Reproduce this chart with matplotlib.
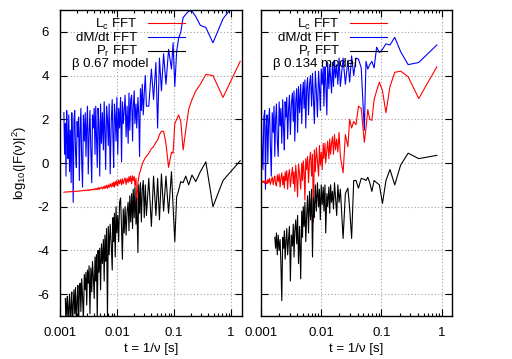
import numpy as np
import matplotlib
matplotlib.use("Agg")
import matplotlib.pyplot as plt
from matplotlib.lines import Line2D
from matplotlib.ticker import LogLocator, NullFormatter

plt.rcParams['font.family'] = ['Liberation Sans', 'DejaVu Sans']
plt.rcParams['mathtext.fontset'] = 'custom'
plt.rcParams['mathtext.rm'] = 'Liberation Sans'
plt.rcParams['mathtext.it'] = 'Liberation Sans:italic'

nan = np.nan

# ---- left panel (beta 0.67 model): period t [s] and log10 |F|^2 ----
t_left = [0.00117, 0.001205, 0.00124, 0.001274, 0.00131, 0.001346, 0.00138, 0.001426, 0.00147, 0.001516,
          0.00157, 0.001609, 0.00166, 0.001704, 0.00176, 0.001811, 0.00187, 0.001933, 0.00200, 0.002057,
          0.00212, 0.002182, 0.00225, 0.002323, 0.00240, 0.002483, 0.00257, 0.002667, 0.00277, 0.002851,
          0.00294, 0.003032, 0.00313, 0.003236, 0.00335, 0.00347, 0.00360, 0.003711, 0.00384, 0.003978,
          0.00411, 0.004235, 0.00436, 0.0045, 0.00465, 0.0048, 0.00497, 0.005143, 0.00533, 0.005538,
          0.00576, 0.00595, 0.00613, 0.006316, 0.00655, 0.006792, 0.00702, 0.007273, 0.00758, 0.007912,
          0.00823, 0.008471, 0.00873, 0.009, 0.00929, 0.0096, 0.00993, 0.010286, 0.01067, 0.011077,
          0.01152, 0.012, 0.01241, 0.012857, 0.01333, 0.013846, 0.0144, 0.015, 0.01565, 0.01618,
          0.01674, 0.01735, 0.0180, 0.0187, 0.0192, 0.0200, 0.02057, 0.02149, 0.02215, 0.02323,
          0.0240, 0.02483, 0.02571, 0.02667, 0.02769, 0.0288, 0.0300, 0.0313, 0.03273,
          0.0360, 0.0400, 0.04364, 0.0480, 0.05143, 0.05538, 0.0600, 0.06545, 0.0720, 0.0800,
          0.0900, 0.0960, 0.1029, 0.1108, 0.1200, 0.1309, 0.1440, 0.1600, 0.1800, 0.2057,
          0.240, 0.288, 0.360, 0.480, 0.720, 1.440]
dmdt_left = [2.3, 0.4, 1.8, -0.6, 2.4, 1.1, 0.2, 2.2, -0.4, 1.5,
             -0.9, 2.3, 0.8, -1.8, 2.0, 2.4, 0.5, -0.2, 1.9, 1.2,
             2.1, -0.8, 1.4, 2.5, 0.1, -1.1, 2.2, 1.0, 2.3, 0.3,
             1.7, 2.6, -0.5, 1.3, 2.4, 0.6, -0.9, 2.2, 1.6, 2.5,
             0.4, 2.6, 1.2, -0.2, 2.5, 1.8, -0.6, 2.7, 0.9, 2.3,
             0.6, 2.8, 1.5, -0.3, 2.6, 2.0, 0.8, 2.7, -0.5, 1.9,
             2.9, 1.2, -0.2, 2.7, 2.2, 1.0, 3.0, 0.4, 2.5, 1.6,
             3.0, 0.05, 2.8, 1.8, 2.4, 3.1, 1.2, 2.6, 0.9, 3.2,
             1.5, 2.9, 3.1, 1.0, 2.5, 3.3, 1.8, 2.7, 1.6, 3.0,
             2.2, 0.3, 3.4, 2.4, 3.6, 2.2, 3.2, 4.0, 2.6,
             2.6, 4.3, 2.9, 4.6, 1.6, 4.8, 3.3, 5.0, 3.6, 5.2,
             4.3, 5.5, 3.5, 5.1, 5.7, 6.0, 6.65, 6.8, 6.95, 6.95,
             6.7, 6.3, 6.2, 5.5, 6.6, 7.6]
lc_left = [-1.34, -1.33, -1.33, -1.33, -1.32, -1.32, -1.33, -1.32, -1.31, -1.32,
           -1.31, -1.31, -1.30, -1.31, -1.30, -1.30, -1.29, -1.30, -1.29, -1.28,
           -1.28, -1.29, -1.27, -1.28, -1.26, -1.27, -1.25, -1.27, -1.24, -1.26,
           -1.25, -1.23, -1.26, -1.22, -1.25, -1.21, -1.24, -1.20, -1.23, -1.18,
           -1.22, -1.17, -1.21, -1.15, -1.22, -1.12, -1.20, -1.14, -1.10, -1.19,
           -1.08, -1.17, -1.05, -1.15, -1.02, -1.16, -1.00, -1.12, -0.95, -1.10,
           -0.92, -1.08, -0.88, -1.10, -0.85, -1.02, -0.80, -1.05, -0.78, -0.95,
           -0.75, -1.00, -0.72, -0.95, -0.80, -0.68, -0.98, -0.70, -0.90, -0.62,
           -0.85, -0.60, -0.95, -0.58, -0.80, -0.62, -1.05, -0.70, -1.95, -0.90,
           -0.65, -0.45, -0.35, -0.20, -0.05, 0.05, 0.15, 0.25, 0.30,
           0.45, 0.65, 0.75, 0.95, 1.05, 1.30, 1.45, 1.45, 0.9, -0.2,
           0.5, 0.45, 1.8, 2.0, 2.2, 1.9, 0.6, 1.5, 2.45, 2.9,
           3.3, 3.6, 4.05, 4.0, 3.0, 4.65]
pr_left = [nan, nan, -6.2, -7.5, -6.4, -6.1, -7.3, -6.6, -6.0, -7.6,
           -6.3, -5.9, -7.8, -6.5, -5.8, -6.9, -5.7, -7.4, -6.2, -5.6,
           -7.4, -5.9, -5.5, -6.8, -5.3, -6.1, -7.2, -5.1, -5.8, -5.0,
           -6.5, -4.9, -5.5, -4.7, -6.9, -4.8, -5.9, -4.5, -5.2, -6.2,
           -4.3, -5.4, -4.2, -7.2, -4.0, -5.0, -3.9, -5.8, -3.7, -4.6,
           -3.5, -5.4, -3.3, -4.5, -3.0, -7.1, -2.9, -4.2, -2.8, -3.7,
           -4.9, -2.5, -3.6, -2.3, -4.3, -2.0, -3.2, -2.4, -3.6, -1.8,
           -1.6, -3.0, -4.4, -2.1, -3.2, -2.0, -3.3, -2.2, -1.8, -3.1,
           -1.5, -2.7, -1.4, -3.0, -1.2, -2.5, -1.1, -2.8, -1.6, -4.1,
           -1.0, -2.3, -0.9, -2.7, -1.2, -0.8, -2.5, -1.0, -2.4,
           -0.7, -2.9, -0.6, -2.4, -0.7, -2.6, -0.5, -2.2, -0.6, -2.3,
           -0.4, -2.0, -3.6, -1.55, -1.25, -0.85, -0.9, -0.6, -1.0, -0.55,
           -0.85, -0.4, 0.05, -2.0, -0.8, 0.1]

# ---- right panel (beta 0.134 model) ----
t_right = [0.001012, 0.001044, 0.001078, 0.001114, 0.001153, 0.001186, 0.001221, 0.001258, 0.001297, 0.001339,
           0.001383, 0.001431, 0.001482, 0.001537, 0.001596, 0.001644, 0.001694, 0.001747, 0.001804, 0.001865,
           0.00193, 0.002, 0.002075, 0.002139, 0.002213, 0.002293, 0.002371, 0.002441, 0.002515, 0.002594,
           0.002677, 0.002767, 0.002862, 0.002964, 0.003074, 0.003192, 0.00332, 0.00343, 0.003532, 0.00364,
           0.003773, 0.003915, 0.004049, 0.004192, 0.004368, 0.00456, 0.004743, 0.004882, 0.00503, 0.005188,
           0.005355, 0.005533, 0.005724, 0.005929, 0.006148, 0.006385, 0.00664, 0.006917, 0.007155, 0.007411,
           0.007685, 0.007981, 0.0083, 0.008646, 0.009022, 0.009326, 0.009651, 0.01, 0.010375, 0.010779,
           0.011067, 0.011528, 0.011857, 0.012388, 0.012769, 0.013387, 0.013833, 0.01431, 0.014821, 0.01537,
           0.015962, 0.0166, 0.017292, 0.018043, 0.018864, 0.019762, 0.02075,
           0.023056, 0.025152, 0.027667, 0.029643, 0.031923, 0.034583, 0.037727, 0.0415, 0.046111, 0.051875,
           0.055333, 0.059286, 0.063846, 0.069167, 0.075455, 0.083, 0.092222, 0.10375, 0.118571, 0.138333,
           0.166, 0.2075, 0.276667, 0.415, 0.83]
dmdt_right = [2.3, 0.5, -0.3, 2.1, 2.4, -1.2, 1.6, 2.2, 0.0, 1.9,
              2.5, 0.8, -0.6, 2.3, 1.4, 2.6, 0.3, 2.0, 2.7, 1.0,
              0.3, 2.8, 1.7, 2.5, 0.9, 2.9, 1.5, 0.6, 2.8, 2.1,
              3.0, 1.1, 2.4, 3.1, 1.3, 2.7, 3.2, 1.9, 3.3, 1.0,
              2.8, 3.4, 1.4, 3.5, 2.3, 3.6, 1.8, 3.2, 3.7, 2.5,
              3.8, 1.6, 3.4, 3.9, 2.2, 3.6, 4.0, 2.6, 4.1, 3.0,
              1.8, 4.2, 3.3, 2.1, 4.2, 3.5, 2.4, 4.3, 3.6, 4.4,
              2.6, 4.4, 3.8, 2.2, 4.6, 3.4, 4.5, 3.9, 3.2, 4.6,
              3.5, 4.7, 3.9, 4.5, 3.6, 4.8, 3.5,
              4.8, 3.6, 4.7, 3.7, 4.9, 4.0, 4.8, 4.75, 4.35, 1.5,
              4.65, 4.3, 4.5, 4.65, 4.35, 5.3, 5.05, 5.2, 5.45, 5.4,
              5.75, 5.1, 4.5, 4.6, 5.4]
lc_right = [-0.87, -0.84, -0.9, -0.82, -0.93, -0.78, -0.88, -0.95, -0.75, -0.9,
            -0.7, -0.98, -0.8, -0.65, -1.0, -0.72, -0.6, -0.95, -1.05, -0.55,
            -0.85, -0.5, -1.1, -0.7, -0.45, -1.0, -0.6, -1.15, -0.4, -0.8,
            -0.35, -1.2, -0.55, -0.3, -1.1, -0.6, -0.2, -0.95, -0.4, -1.3,
            -0.1, -0.7, -1.55, -0.05, -0.5, -1.2, 0.0, -0.8, 0.1, -0.4,
            -1.7, 0.2, -0.3, 0.3, -0.9, 0.1, 0.5, -0.6, 0.4, -2.7,
            0.6, -0.4, 0.7, 0.1, -0.6, 0.8, -0.1, 0.5, -0.3, 0.9,
            0.2, 0.9, 0.0, 0.6, 1.0, 0.2, 1.1, 0.4, 0.9, 1.2,
            0.4, 1.3, 0.6, 1.1, 0.5, 1.4, 0.3,
            -0.45, 1.3, 0.75, 2.0, 1.6, 1.9, 1.75, 2.6, 2.5, 0.95,
            1.6, 2.45, 2.0, 1.95, 2.9, 3.3, 3.7, 3.3, 2.3, 3.5,
            4.15, 4.2, 3.95, 2.95, 4.4]
pr_right = [nan, nan, nan, nan, nan, nan, nan, nan, nan, nan,
            nan, nan, nan, nan, nan, nan, -3.4, -3.9, -3.2, -4.2,
            -3.3, -4.0, -3.5, -4.6, -6.3, -3.4, -3.9, -3.1, -4.4, -3.6,
            -3.0, -4.2, -3.5, -2.9, -5.4, -3.3, -3.8, -2.8, -4.3, -3.1,
            -2.6, -3.7, -2.4, -4.6, -2.9, -5.3, -2.2, -3.4, -2.0, -2.9,
            -1.8, -3.6, -2.4, -1.5, -3.2, -1.3, -2.6, -1.2, -4.3, -1.6,
            -2.5, -1.0, -2.2, -0.9, -2.0, -1.2, -2.6, -1.0, -1.9, -1.1,
            -2.2, -1.0, -3.2, -1.4, -2.0, -1.1, -2.3, -1.0, -1.8, -1.3,
            -2.1, -0.9, -1.6, -2.4, -1.0, -1.8, -1.2,
            -3.45, -1.4, -1.15, -2.1, -3.45, -0.8, -0.8, -1.15, -0.7, -0.75,
            -0.8, -0.65, -0.9, -1.3, -0.8, -0.9, -1.0, -1.85, -0.8, -0.3,
            -1.0, -0.1, 0.45, 0.2, 0.35]

labels = ['L$_\\mathrm{c}$ FFT', 'dM/dt FFT', 'P$_\\mathrm{r}$ FFT']
xticks = [0.001, 0.01, 0.1, 1]
xticklabels = ['0.001', '0.01', '0.1', '1']
yticks = [-6, -4, -2, 0, 2, 4, 6]

fig = plt.figure(figsize=(5.12, 3.59), dpi=100)
ax1 = fig.add_axes([60/512, 43/359, 182/512, 306/359])
ax2 = fig.add_axes([261/512, 43/359, 191/512, 306/359])

panels = [
    (ax1, t_left, lc_left, dmdt_left, pr_left, 'β 0.67 model', 1.55, 0.687, 0.484),
    (ax2, t_right, lc_right, dmdt_right, pr_right, 'β 0.134 model', 1.48, 0.66, 0.503),
]

for ax, t, lc, dm, pr, model, xmax, leg_x, model_x in panels:
    ax.plot(t, dm, color='#0000ff', lw=0.8)
    ax.plot(t, lc, color='#ff0000', lw=0.8)
    ax.plot(t, pr, color='black', lw=0.8)
    ax.set_xscale('log')
    ax.set_xlim(0.001, xmax)
    ax.set_ylim(-7, 7)
    ax.set_xticks(xticks)
    ax.set_xticklabels(xticklabels)
    ax.xaxis.set_minor_locator(LogLocator(base=10, subs=np.arange(2, 10)))
    ax.xaxis.set_minor_formatter(NullFormatter())
    ax.set_yticks(yticks)
    ax.grid(True, which='major', linestyle=(0, (1, 2)), color='#a0a0a0', lw=0.8)
    ax.tick_params(which='major', direction='in', top=True, right=True, length=5,
                   labelsize=9.5, pad=8, width=0.8)
    ax.tick_params(which='minor', direction='in', top=True, right=True, length=2.5, width=0.8)
    for s in ax.spines.values():
        s.set_linewidth(1.0)
    ax.set_xlabel('t = 1/ν [s]', fontsize=9.5, labelpad=3)

    handles = [Line2D([], [], color='#ff0000', lw=0.8),
               Line2D([], [], color='#0000ff', lw=0.8),
               Line2D([], [], color='black', lw=0.8)]
    ax.legend(handles, labels, loc='upper right', bbox_to_anchor=(leg_x, 0.977),
              markerfirst=False, frameon=False, fontsize=9.5, handlelength=2.8,
              handletextpad=0.8, labelspacing=0.0, borderpad=0, borderaxespad=0)
    ax.text(model_x, 0.822, model, transform=ax.transAxes, ha='right', va='center', fontsize=9.5)

ax1.set_yticklabels([str(v) for v in yticks])
ax2.set_yticklabels([])
ax1.set_ylabel('log$_{10}$(|F(ν)|$^2$)', fontsize=9.5, labelpad=6)

fig.savefig('out.png', dpi=100)
